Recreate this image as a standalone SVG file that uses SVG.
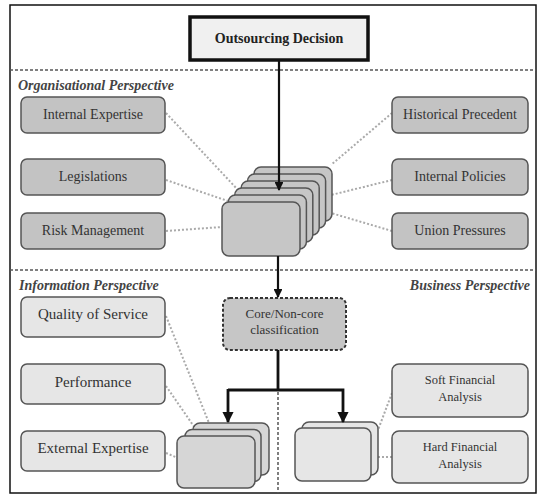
<svg xmlns="http://www.w3.org/2000/svg" width="538" height="496" viewBox="0 0 538 496" font-family="'Liberation Serif', 'DejaVu Serif', serif">
  <defs>
    <marker id="arrow" viewBox="0 0 10 10" refX="9" refY="5" markerWidth="4" markerHeight="4" markerUnits="strokeWidth" orient="auto">
      <path d="M0,0 L10,5 L0,10 z" fill="#111"/>
    </marker>
    <style>
      text { fill: #333; text-anchor: middle; }
      .lbl { font-size: 14px; }
      .ilbl { font-size: 15px; }
      .blbl { font-size: 12.5px; }
      .sec { font-size: 14px; font-weight: bold; font-style: italic; text-anchor: start; fill: #444; }
      .org { fill: #c3c3c3; stroke: #555; stroke-width: 1.5; }
      .info { fill: #e6e6e6; stroke: #555; stroke-width: 1.5; }
      .stackA { fill: #c6c6c6; stroke: #555; stroke-width: 1.5; }
      .stackB { fill: #d6d6d6; stroke: #555; stroke-width: 1.5; }
      .stackC { fill: #e6e6e6; stroke: #555; stroke-width: 1.5; }
      .sep { fill: none; stroke: #555; stroke-width: 1.5; stroke-dasharray: 3 2; }
      .dot { fill: none; stroke: #aaa; stroke-width: 2; stroke-dasharray: 2 2; }
      .flow { fill: none; stroke: #111; stroke-width: 2.2; }
      .flow2 { fill: none; stroke: #111; stroke-width: 2.8; }
    </style>
  </defs>

  <!-- outer frame -->
  <rect x="10" y="5" width="526" height="488" fill="#fff" stroke="#111" stroke-width="1.5"/>

  <!-- perspective separators -->
  <line class="sep" x1="10" y1="70" x2="536" y2="70"/>
  <line class="sep" x1="10" y1="270" x2="536" y2="270"/>
  <line class="sep" x1="278" y1="392" x2="278" y2="493"/>

  <!-- perspective labels -->
  <text class="sec" x="18" y="90">Organisational Perspective</text>
  <text class="sec" x="19" y="290">Information Perspective</text>
  <text class="sec" x="530" y="290" style="text-anchor:end">Business Perspective</text>

  <!-- dotted associations between factors and stacks -->
  <g id="associations">
    <line class="dot" x1="166" y1="113" x2="238" y2="190"/>
    <line class="dot" x1="166" y1="180" x2="228" y2="201"/>
    <line class="dot" x1="166" y1="231" x2="222" y2="227"/>
    <line class="dot" x1="392" y1="113" x2="331" y2="165"/>
    <line class="dot" x1="392" y1="180" x2="331" y2="195"/>
    <line class="dot" x1="392" y1="231" x2="331" y2="213"/>
    <line class="dot" x1="166" y1="316" x2="209" y2="423"/>
    <line class="dot" x1="166" y1="386" x2="195" y2="428"/>
    <line class="dot" x1="166" y1="453" x2="178" y2="458"/>
    <line class="dot" x1="392" y1="393" x2="378" y2="430"/>
    <line class="dot" x1="392" y1="457" x2="377" y2="457"/>
  </g>

  <!-- decision -->
  <g id="decision">
    <rect x="190" y="17" width="178" height="43" fill="#f0f0f0" stroke="#111" stroke-width="3.5"/>
    <text x="279" y="43" style="font-size:14px;font-weight:bold;fill:#222">Outsourcing Decision</text>
  </g>

  <!-- organisational factors -->
  <g id="internal-expertise">
    <rect class="org" x="21" y="97" width="144" height="36" rx="6"/>
    <text class="lbl" x="93" y="119">Internal Expertise</text>
  </g>
  <g id="legislations">
    <rect class="org" x="21" y="159" width="144" height="36" rx="6"/>
    <text class="lbl" x="93" y="181">Legislations</text>
  </g>
  <g id="risk-management">
    <rect class="org" x="21" y="213" width="144" height="36" rx="6"/>
    <text class="lbl" x="93" y="235">Risk Management</text>
  </g>
  <g id="historical-precedent">
    <rect class="org" x="392" y="97" width="136" height="36" rx="6"/>
    <text class="lbl" x="460" y="119">Historical Precedent</text>
  </g>
  <g id="internal-policies">
    <rect class="org" x="392" y="159" width="136" height="36" rx="6"/>
    <text class="lbl" x="460" y="181">Internal Policies</text>
  </g>
  <g id="union-pressures">
    <rect class="org" x="392" y="213" width="136" height="36" rx="6"/>
    <text class="lbl" x="460" y="235">Union Pressures</text>
  </g>

  <!-- organisational stack -->
  <g id="org-stack">
    <rect class="stackA" x="254" y="167" width="78" height="54" rx="7"/>
    <rect class="stackA" x="247.6" y="174" width="78" height="54" rx="7"/>
    <rect class="stackA" x="241.2" y="181" width="78" height="54" rx="7"/>
    <rect class="stackA" x="234.8" y="188" width="78" height="54" rx="7"/>
    <rect class="stackA" x="228.4" y="195" width="78" height="54" rx="7"/>
    <rect class="stackA" x="222" y="202" width="78" height="54" rx="7"/>
  </g>

  <!-- classification -->
  <g id="classification">
    <rect x="223" y="298" width="123" height="52" rx="7" fill="#c6c6c6" stroke="#333" stroke-width="2" stroke-dasharray="3 2"/>
    <text x="284.5" y="318" style="font-size:13px">Core/Non-core</text>
    <text x="284.5" y="334" style="font-size:13px">classification</text>
  </g>

  <!-- information factors -->
  <g id="quality-of-service">
    <rect class="info" x="21" y="297" width="144" height="40" rx="6"/>
    <text class="ilbl" x="93" y="319">Quality of Service</text>
  </g>
  <g id="performance">
    <rect class="info" x="21" y="364" width="144" height="40" rx="6"/>
    <text class="ilbl" x="93" y="387">Performance</text>
  </g>
  <g id="external-expertise">
    <rect class="info" x="21" y="431" width="144" height="40" rx="6"/>
    <text class="ilbl" x="93" y="453">External Expertise</text>
  </g>

  <!-- information stack -->
  <g id="info-stack">
    <rect class="stackB" x="193" y="423" width="76" height="52" rx="7"/>
    <rect class="stackB" x="185" y="429.5" width="76" height="52" rx="7"/>
    <rect class="stackB" x="177" y="436" width="78" height="52" rx="7"/>
  </g>

  <!-- business factors -->
  <g id="soft-financial">
    <rect class="info" x="392" y="364" width="136" height="53" rx="7"/>
    <text class="blbl" x="460" y="384">Soft Financial</text>
    <text class="blbl" x="460" y="401">Analysis</text>
  </g>
  <g id="hard-financial">
    <rect class="info" x="392" y="431" width="136" height="52" rx="7"/>
    <text class="blbl" x="460" y="451">Hard Financial</text>
    <text class="blbl" x="460" y="468">Analysis</text>
  </g>

  <!-- business stack -->
  <g id="business-stack">
    <rect class="stackC" x="302" y="422" width="76" height="53" rx="7"/>
    <rect class="stackC" x="295" y="428" width="76" height="53" rx="7"/>
  </g>

  <!-- decision flow -->
  <g id="connectors">
    <line class="flow" x1="279" y1="61" x2="279" y2="190" marker-end="url(#arrow)"/>
    <line class="flow" x1="278" y1="256" x2="278" y2="297" marker-end="url(#arrow)"/>
    <path class="flow2" d="M278,350 V390 M228,390 H343 V422" marker-end="url(#arrow)"/>
    <path class="flow2" d="M228,389 V422" marker-end="url(#arrow)"/>
  </g>
</svg>
